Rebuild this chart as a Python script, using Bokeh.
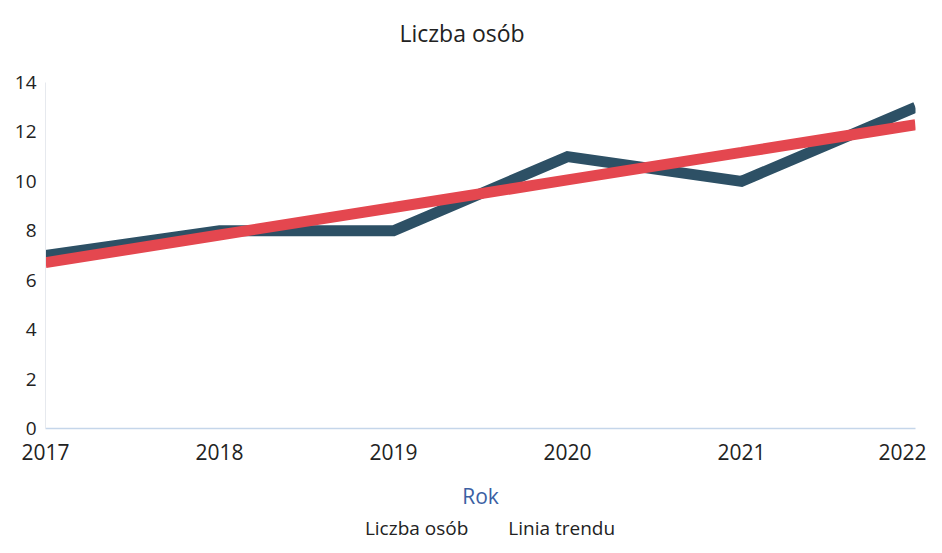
from bokeh.plotting import figure
from bokeh.models import Range1d, Legend, LegendItem, FixedTicker, Title
from bokeh.layouts import column
from bokeh.embed import file_html
from bokeh.resources import INLINE

years = [2017, 2018, 2019, 2020, 2021, 2022]
liczba_osob = [7, 8, 8, 11, 10, 13]
linia_trendu = [6.71, 7.83, 8.94, 10.06, 11.17, 12.29]
y_ticks = [0, 2, 4, 6, 8, 10, 12, 14]
series_names = ["Liczba osób", "Linia trendu"]

FONT = "Open Sans"
DARK = "#2d5065"
RED = "#e4474f"

p = figure(width=926, height=512, output_backend="svg", toolbar_location=None,
           x_range=Range1d(2017, 2022), y_range=Range1d(0, 14),
           min_border_left=45, min_border_right=11, min_border_top=0,
           min_border_bottom=0)
p.outline_line_color = None
p.xgrid.visible = False
p.ygrid.visible = False

# main title (outermost panel)
p.title.text = "Liczba osób"
p.title.align = "left"
p.title.offset = 354
p.title.text_font = FONT
p.title.text_font_size = "23px"
p.title.text_font_style = "normal"
p.title.text_color = "#222222"
p.title.standoff = 28

# small spacer between title and plot frame
spacer = Title(text=" ", text_font_size="2px", standoff=16)
p.add_layout(spacer, "above")

r1 = p.line(years, liczba_osob, line_color=DARK, line_width=11, line_join="miter")
r2 = p.line(years, linia_trendu, line_color=RED, line_width=11)

xa = p.xaxis[0]
xa.ticker = FixedTicker(ticks=years)
xa.axis_line_color = "#c5d6ea"
xa.axis_line_width = 1.5
xa.major_tick_line_color = None
xa.minor_tick_line_color = None
xa.major_tick_out = 0
xa.major_label_text_font = FONT
xa.major_label_text_font_size = "21px"
xa.major_label_text_color = "#222222"
xa.major_label_standoff = 15
xa.axis_label = "Rok"
xa.axis_label_text_font = FONT
xa.axis_label_text_font_size = "21px"
xa.axis_label_text_font_style = "normal"
xa.axis_label_text_color = "#3b5fa3"
xa.axis_label_standoff = 19

ya = p.yaxis[0]
ya.ticker = FixedTicker(ticks=y_ticks)
ya.axis_line_color = "#e6e9ee"
ya.major_tick_line_color = None
ya.minor_tick_line_color = None
ya.major_tick_out = 0
ya.major_label_text_font = FONT
ya.major_label_text_font_size = "19px"
ya.major_label_text_color = "#222222"
ya.major_label_standoff = 9

# legend strip below the chart
p2 = figure(width=926, height=32, output_backend="svg", toolbar_location=None,
            x_range=Range1d(0, 1), y_range=Range1d(0, 1),
            x_axis_location=None, y_axis_location=None, min_border=0)
p2.outline_line_color = None
p2.xgrid.visible = False
p2.ygrid.visible = False
l1 = p2.line(x=[], y=[], line_color=DARK, line_width=11)
l2 = p2.line(x=[], y=[], line_color=RED, line_width=11)

legend = Legend(items=[LegendItem(label=series_names[0], renderers=[l1]),
                       LegendItem(label=series_names[1], renderers=[l2])],
                orientation="horizontal", location="center",
                label_text_font=FONT, label_text_font_size="19px",
                label_text_color="#222222", glyph_width=16, glyph_height=12,
                label_standoff=4, spacing=20, padding=0, margin=0,
                border_line_color=None, background_fill_alpha=0)
p2.add_layout(legend, "center")

layout = column(p, p2, spacing=0)
open("out.html", "w").write(file_html(layout, INLINE))
